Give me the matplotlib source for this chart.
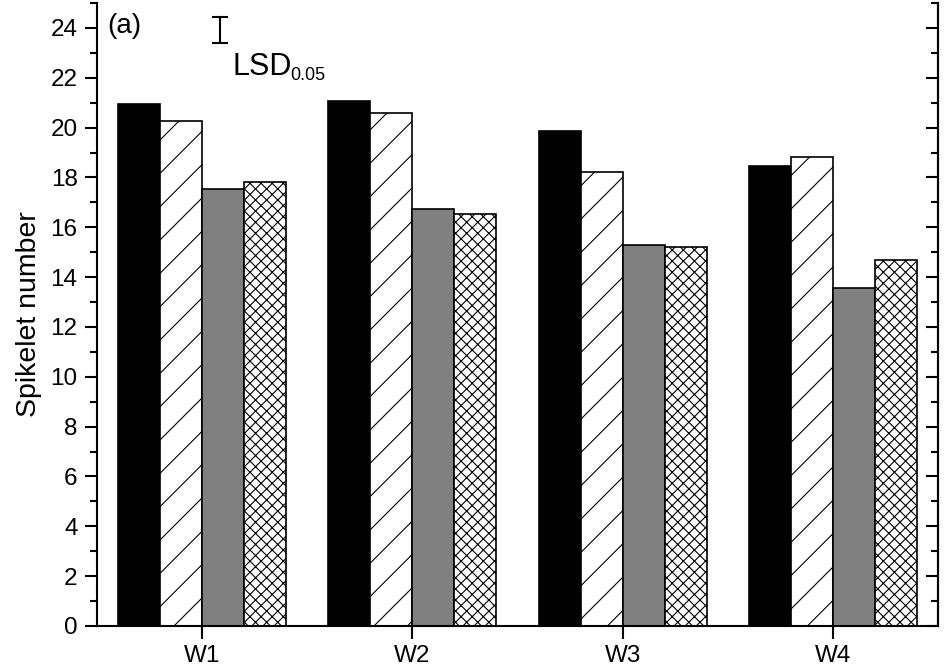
import matplotlib
matplotlib.use("Agg")
import matplotlib.pyplot as plt
import numpy as np

plt.rcParams["font.family"] = ["Liberation Sans", "DejaVu Sans"]
plt.rcParams["hatch.linewidth"] = 0.8

# spikelet number per treatment
groups = ["W1", "W2", "W3", "W4"]
solid_black = [20.95, 21.07, 19.86, 18.47]
hatch_diag = [20.27, 20.6, 18.2, 18.82]
solid_gray = [17.55, 16.75, 15.3, 13.57]
hatch_cross = [17.82, 16.53, 15.22, 14.7]
lsd_center = 23.92
lsd_half = 0.52

fig = plt.figure(figsize=(9.45, 6.7), dpi=100)
ax = fig.add_axes([0.1026, 0.0657, 0.8900, 0.9298])

x = np.arange(1, len(groups) + 1)
w = 0.2
styles = [
  (solid_black, "black", None),
  (hatch_diag, "white", "/"),
  (solid_gray, "#808080", None),
  (hatch_cross, "white", "xxx"),
]
for i, (vals, color, hatch) in enumerate(styles):
  ax.bar(x + (i - 1.5) * w, vals, width=w, color=color, hatch=hatch,
         edgecolor="black", linewidth=1.2, zorder=2)

ax.set_xlim(0.5, 4.5)
ax.set_ylim(0, 25)
ax.set_xticks(x)
ax.set_xticklabels(groups)
ax.set_yticks(np.arange(0, 25, 2))
ax.set_yticks(np.arange(1, 26, 2), minor=True)
ax.spines["top"].set_visible(False)
for s in ["left", "right", "bottom"]:
  ax.spines[s].set_linewidth(1.5)
ax.tick_params(axis="both", which="major", labelsize=17.5, width=1.5,
               length=9, direction="out", pad=5)
ax.tick_params(axis="y", which="minor", width=1.5, length=5, direction="out")
ax.tick_params(axis="x", which="minor", bottom=False)
ax.set_ylabel("Spikelet number", fontsize=20.5, labelpad=6)

# mirrored ticks on the right spine, pointing inward
ax2 = ax.twinx()
ax2.set_ylim(ax.get_ylim())
ax2.set_yticks(np.arange(0, 25, 2))
ax2.set_yticks(np.arange(1, 26, 2), minor=True)
ax2.tick_params(axis="y", which="major", direction="in", length=9,
                width=1.5, labelright=False)
ax2.tick_params(axis="y", which="minor", direction="in", length=5, width=1.5)
for s in ["top", "left", "bottom"]:
  ax2.spines[s].set_visible(False)
ax2.spines["right"].set_linewidth(1.5)

# LSD bar and panel label
ax.errorbar([1.086], [lsd_center], yerr=[lsd_half], fmt="none", ecolor="black",
            elinewidth=1.5, capsize=5.5, capthick=1.5, zorder=3)
ax.text(1.143, 22.1, "LSD", fontsize=22, va="baseline", ha="left")
ax.text(1.42, 21.9, "0.05", fontsize=13, va="baseline", ha="left")
ax.text(0.548, 24.08, "(a)", fontsize=20, va="center", ha="left")

fig.savefig("out.png", dpi=100)
